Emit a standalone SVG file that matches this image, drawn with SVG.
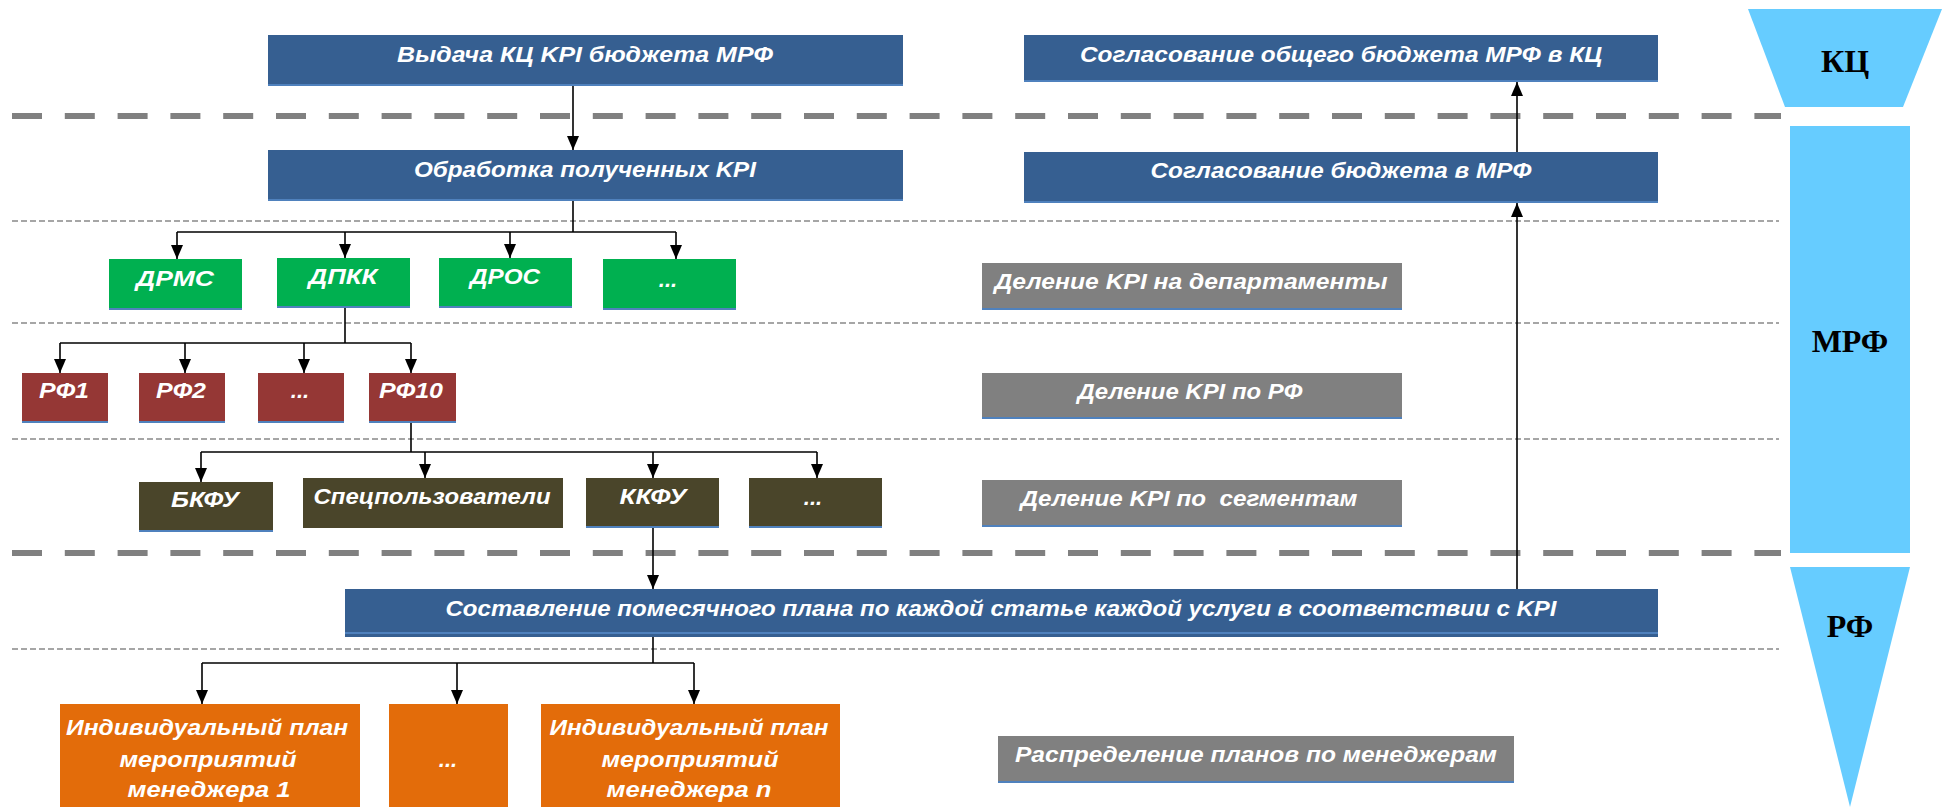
<svg xmlns="http://www.w3.org/2000/svg" width="1942" height="807" viewBox="0 0 1942 807">
<style>
.t{font-family:"Liberation Sans",Arial,sans-serif;font-weight:bold;font-style:italic;font-size:22px;fill:#fff;text-anchor:middle}
.r{font-family:"Liberation Serif","Times New Roman",serif;font-weight:bold;font-size:32px;fill:#000;text-anchor:middle}
.blue{fill:#365F91}
.green{fill:#00B050}
.red{fill:#953735}
.olive{fill:#4A452A}
.gray{fill:#808080}
.orange{fill:#E36C0A}
.sky{fill:#66CCFF}
.edge{stroke:#4F81BD;stroke-width:2}
.thick{stroke:#808080;stroke-width:6;stroke-dasharray:30 22.8;fill:none}
.thin{stroke:#A6A6A6;stroke-width:2;stroke-dasharray:6 3;fill:none}
.c{stroke:#000;stroke-width:1.6;fill:none}
.a{marker-end:url(#arr)}
</style>
<defs>
<marker id="arr" viewBox="0 0 14 12" refX="14" refY="6" markerWidth="14" markerHeight="12" markerUnits="userSpaceOnUse" orient="auto">
<path d="M0,0 L14,6 L0,12 z" fill="#000"/>
</marker>
</defs>
<rect width="1942" height="807" fill="#fff"/>

<g id="separators">
<line class="thick" x1="12" y1="116" x2="1781" y2="116"/>
<line class="thick" x1="12" y1="553" x2="1781" y2="553"/>
<line class="thin" x1="12" y1="221" x2="1779" y2="221"/>
<line class="thin" x1="12" y1="323" x2="1779" y2="323"/>
<line class="thin" x1="12" y1="439" x2="1779" y2="439"/>
<line class="thin" x1="12" y1="649" x2="1779" y2="649"/>
</g>

<g id="levels">
<g id="level-kc">
<polygon class="sky" points="1748,9 1942,9 1903,107 1785,107"/>
<text class="r" x="1845" y="72">КЦ</text>
</g>
<g id="level-mrf">
<rect class="sky" x="1790" y="126" width="120" height="427"/>
<text class="r" x="1850" y="352">МРФ</text>
</g>
<g id="level-rf">
<polygon class="sky" points="1790,567 1910,567 1850,807"/>
<text class="r" x="1850" y="637">РФ</text>
</g>
</g>

<g id="connectors">
<line class="c a" x1="573" y1="86" x2="573" y2="150"/>
<polyline class="c" points="573,201 573,232"/>
<line class="c" x1="177" y1="232" x2="676" y2="232"/>
<line class="c a" x1="177" y1="232" x2="177" y2="259"/>
<line class="c a" x1="345" y1="232" x2="345" y2="258"/>
<line class="c a" x1="510" y1="232" x2="510" y2="258"/>
<line class="c a" x1="676" y1="232" x2="676" y2="259"/>
<line class="c" x1="345" y1="308" x2="345" y2="343"/>
<line class="c" x1="60" y1="343" x2="411" y2="343"/>
<line class="c a" x1="60" y1="343" x2="60" y2="373"/>
<line class="c a" x1="185" y1="343" x2="185" y2="373"/>
<line class="c a" x1="304" y1="343" x2="304" y2="373"/>
<line class="c a" x1="411" y1="343" x2="411" y2="373"/>
<line class="c" x1="411" y1="423" x2="411" y2="452"/>
<line class="c" x1="201" y1="452" x2="817" y2="452"/>
<line class="c a" x1="201" y1="452" x2="201" y2="482"/>
<line class="c a" x1="425" y1="452" x2="425" y2="478"/>
<line class="c a" x1="653" y1="452" x2="653" y2="478"/>
<line class="c a" x1="817" y1="452" x2="817" y2="478"/>
<line class="c a" x1="653" y1="528" x2="653" y2="589"/>
<line class="c" x1="653" y1="637" x2="653" y2="663"/>
<line class="c" x1="202" y1="663" x2="694" y2="663"/>
<line class="c a" x1="202" y1="663" x2="202" y2="704"/>
<line class="c a" x1="457" y1="663" x2="457" y2="704"/>
<line class="c a" x1="694" y1="663" x2="694" y2="704"/>
<line class="c a" x1="1517" y1="589" x2="1517" y2="203"/>
<line class="c a" x1="1517" y1="152" x2="1517" y2="82"/>
</g>

<g id="n-vydacha"><rect class="blue" x="268" y="35" width="635" height="51"/><line class="edge" x1="268" y1="85" x2="903" y2="85"/><text class="t" x="585" y="62" textLength="376" lengthAdjust="spacingAndGlyphs">Выдача КЦ KPI бюджета МРФ</text></g>
<g id="n-obrabotka"><rect class="blue" x="268" y="150" width="635" height="51"/><line class="edge" x1="268" y1="200" x2="903" y2="200"/><text class="t" x="585" y="177" textLength="342" lengthAdjust="spacingAndGlyphs">Обработка полученных KPI</text></g>
<g id="n-soglas-kc"><rect class="blue" x="1024" y="35" width="634" height="47"/><line class="edge" x1="1024" y1="81" x2="1658" y2="81"/><text class="t" x="1341" y="62" textLength="522" lengthAdjust="spacingAndGlyphs">Согласование общего бюджета МРФ в КЦ</text></g>
<g id="n-soglas-mrf"><rect class="blue" x="1024" y="152" width="634" height="51"/><line class="edge" x1="1024" y1="202" x2="1658" y2="202"/><text class="t" x="1341" y="178" textLength="381" lengthAdjust="spacingAndGlyphs">Согласование бюджета в МРФ</text></g>

<g id="n-drms"><rect class="green" x="109" y="259" width="133" height="51"/><line class="edge" x1="109" y1="309" x2="242" y2="309"/><text class="t" x="175" y="286" textLength="78" lengthAdjust="spacingAndGlyphs">ДРМС</text></g>
<g id="n-dpkk"><rect class="green" x="277" y="258" width="133" height="50"/><line class="edge" x1="277" y1="307" x2="410" y2="307"/><text class="t" x="343" y="284" textLength="69" lengthAdjust="spacingAndGlyphs">ДПКК</text></g>
<g id="n-dros"><rect class="green" x="439" y="258" width="133" height="50"/><line class="edge" x1="439" y1="307" x2="572" y2="307"/><text class="t" x="505" y="284" textLength="70" lengthAdjust="spacingAndGlyphs">ДРОС</text></g>
<g id="n-dep-more"><rect class="green" x="603" y="259" width="133" height="51"/><line class="edge" x1="603" y1="309" x2="736" y2="309"/><text class="t" x="668" y="287">...</text></g>

<g id="n-rf1"><rect class="red" x="22" y="373" width="86" height="50"/><line class="edge" x1="22" y1="422" x2="108" y2="422"/><text class="t" x="64" y="398" textLength="50" lengthAdjust="spacingAndGlyphs">РФ1</text></g>
<g id="n-rf2"><rect class="red" x="139" y="373" width="86" height="50"/><line class="edge" x1="139" y1="422" x2="225" y2="422"/><text class="t" x="181" y="398" textLength="50" lengthAdjust="spacingAndGlyphs">РФ2</text></g>
<g id="n-rf-more"><rect class="red" x="258" y="373" width="86" height="50"/><line class="edge" x1="258" y1="422" x2="344" y2="422"/><text class="t" x="300" y="398">...</text></g>
<g id="n-rf10"><rect class="red" x="369" y="373" width="87" height="50"/><line class="edge" x1="369" y1="422" x2="456" y2="422"/><text class="t" x="411" y="398" textLength="64" lengthAdjust="spacingAndGlyphs">РФ10</text></g>

<g id="n-bkfu"><rect class="olive" x="139" y="482" width="134" height="50"/><line class="edge" x1="139" y1="531" x2="273" y2="531"/><text class="t" x="205" y="507" textLength="68" lengthAdjust="spacingAndGlyphs">БКФУ</text></g>
<g id="n-spec"><rect class="olive" x="303" y="478" width="260" height="50"/><text class="t" x="432" y="504" textLength="237" lengthAdjust="spacingAndGlyphs">Спецпользователи</text></g>
<g id="n-kkfu"><rect class="olive" x="586" y="478" width="133" height="50"/><line class="edge" x1="586" y1="527" x2="719" y2="527"/><text class="t" x="653" y="504" textLength="67" lengthAdjust="spacingAndGlyphs">ККФУ</text></g>
<g id="n-seg-more"><rect class="olive" x="749" y="478" width="133" height="50"/><line class="edge" x1="749" y1="527" x2="882" y2="527"/><text class="t" x="813" y="505">...</text></g>

<g id="n-del-dep"><rect class="gray" x="982" y="263" width="420" height="47"/><line class="edge" x1="982" y1="309" x2="1402" y2="309"/><text class="t" x="1191" y="289" textLength="393" lengthAdjust="spacingAndGlyphs">Деление KPI на департаменты</text></g>
<g id="n-del-rf"><rect class="gray" x="982" y="373" width="420" height="46"/><line class="edge" x1="982" y1="418" x2="1402" y2="418"/><text class="t" x="1190" y="399" textLength="225" lengthAdjust="spacingAndGlyphs">Деление KPI по РФ</text></g>
<g id="n-del-seg"><rect class="gray" x="982" y="480" width="420" height="47"/><line class="edge" x1="982" y1="526" x2="1402" y2="526"/><text class="t" x="1189" y="506" textLength="337" lengthAdjust="spacingAndGlyphs" xml:space="preserve">Деление KPI по  сегментам</text></g>

<g id="n-plan"><rect class="blue" x="345" y="589" width="1313" height="48"/><line class="edge" x1="345" y1="633" x2="1658" y2="633"/><text class="t" x="1001" y="616" textLength="1111" lengthAdjust="spacingAndGlyphs">Составление помесячного плана по каждой статье каждой услуги в соответствии с KPI</text></g>

<g id="n-raspred"><rect class="gray" x="998" y="736" width="516" height="47"/><line class="edge" x1="998" y1="782" x2="1514" y2="782"/><text class="t" x="1256" y="762" textLength="482" lengthAdjust="spacingAndGlyphs">Распределение планов по менеджерам</text></g>

<g id="n-man1"><rect class="orange" x="60" y="704" width="300" height="110"/>
<text class="t" x="207" y="735" textLength="282" lengthAdjust="spacingAndGlyphs">Индивидуальный план</text>
<text class="t" x="208" y="767" textLength="177" lengthAdjust="spacingAndGlyphs">мероприятий</text>
<text class="t" x="209" y="797" textLength="163" lengthAdjust="spacingAndGlyphs">менеджера 1</text></g>
<g id="n-man-more"><rect class="orange" x="389" y="704" width="119" height="110"/><text class="t" x="448" y="767">...</text></g>
<g id="n-mann"><rect class="orange" x="541" y="704" width="299" height="110"/>
<text class="t" x="689" y="735" textLength="279" lengthAdjust="spacingAndGlyphs">Индивидуальный план</text>
<text class="t" x="690" y="767" textLength="177" lengthAdjust="spacingAndGlyphs">мероприятий</text>
<text class="t" x="689" y="797" textLength="165" lengthAdjust="spacingAndGlyphs">менеджера n</text></g>
</svg>
